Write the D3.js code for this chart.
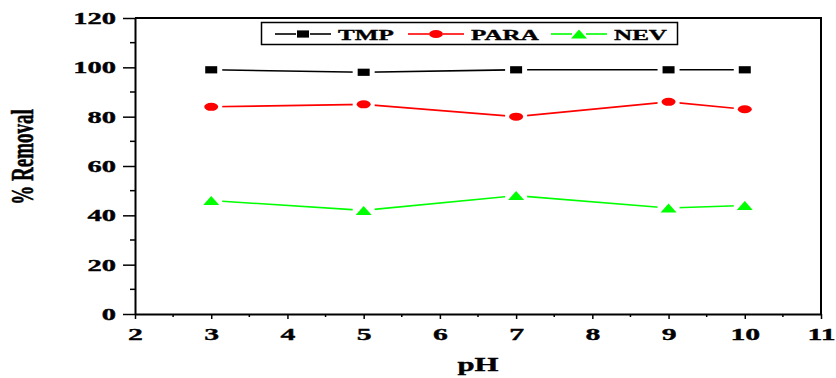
<!DOCTYPE html>
<html>
<head>
<meta charset="utf-8">
<script src="https://cdn.jsdelivr.net/npm/d3@7"></script>
<style>
  body { margin: 0; background: #fff; }
  svg { display: block; }
  text { stroke: #000; stroke-width: 0.35px; }
</style>
</head>
<body>
<script>
// data
const phValues = [3, 5, 7, 9, 10];
const tmp = [99, 98, 99, 99, 99];
const para = [84, 85, 80, 86, 83];
const nev = [46, 42, 48, 43, 44];
const xTicks = [2, 3, 4, 5, 6, 7, 8, 9, 10, 11];
const yTicks = [0, 20, 40, 60, 80, 100, 120];

const series = [
  {name: "TMP", values: tmp, color: "#000000", symbol: "square"},
  {name: "PARA", values: para, color: "#ff0000", symbol: "circle"},
  {name: "NEV", values: nev, color: "#00ff00", symbol: "triangle"}
];

const width = 836, height = 378;
const margin = {top: 18, right: 15, bottom: 64, left: 135};
const SX = 1.7; // the original picture is stretched sideways
const font = "'Liberation Serif', 'Times New Roman', serif";

const x = d3.scaleLinear().domain([2, 11]).range([margin.left, width - margin.right]);
const y = d3.scaleLinear().domain([0, 120]).range([height - margin.bottom, margin.top]);

const svg = d3.select("body").append("svg")
  .attr("width", width)
  .attr("height", height)
  .attr("font-family", font)
  .attr("font-weight", "bold");

// marker shapes, drawn wide to match the stretched look
function marker(g, symbol, color) {
  if (symbol === "square") {
    g.append("rect").attr("x", -6).attr("y", -3.6).attr("width", 12).attr("height", 7.2)
      .attr("fill", color);
  } else if (symbol === "circle") {
    g.append("ellipse").attr("rx", 7).attr("ry", 4).attr("fill", color);
  } else {
    g.append("path").attr("d", "M-8,4.5L0,-4.5L8,4.5Z").attr("fill", color);
  }
}

// minor ticks
const xMinor = d3.range(2, 11.01, 0.5).filter(v => v % 1 !== 0);
const yMinor = d3.range(10, 120, 20);

svg.append("g").selectAll("line").data(xMinor).join("line")
  .attr("x1", d => x(d)).attr("x2", d => x(d))
  .attr("y1", y(0)).attr("y2", y(0) + 3)
  .attr("stroke", "#000").attr("stroke-width", 1.5);

svg.append("g").selectAll("line").data(yMinor).join("line")
  .attr("x1", x(2)).attr("x2", x(2) - 5)
  .attr("y1", d => y(d)).attr("y2", d => y(d))
  .attr("stroke", "#000").attr("stroke-width", 1.5);

// axes
const xAxis = svg.append("g")
  .attr("transform", `translate(0,${y(0)})`)
  .call(d3.axisBottom(x).tickValues(xTicks).tickSize(5).tickSizeOuter(0));
xAxis.select(".domain").attr("stroke-width", 2);
xAxis.selectAll(".tick line").attr("stroke-width", 1.5);
xAxis.selectAll(".tick text")
  .attr("y", 0).attr("dy", null)
  .attr("transform", "translate(0,26) scale(" + SX + ",1)")
  .attr("font-size", 17.5)
  .attr("font-family", font)
  .attr("font-weight", "bold")
  .attr("fill", "#000");

const yAxis = svg.append("g")
  .attr("transform", `translate(${x(2)},0)`)
  .call(d3.axisLeft(y).tickValues(yTicks).tickSize(12).tickSizeOuter(0));
yAxis.select(".domain").attr("stroke-width", 2);
yAxis.selectAll(".tick line").attr("stroke-width", 1.5);
yAxis.selectAll(".tick text")
  .attr("x", 0).attr("dy", null)
  .attr("transform", "translate(-19,5.5) scale(1.78,1)")
  .attr("font-size", 16)
  .attr("font-family", font)
  .attr("font-weight", "bold")
  .attr("fill", "#000");

// top and right frame
svg.append("path")
  .attr("d", `M${x(2)},${y(120)}H${x(11)}V${y(0)}`)
  .attr("fill", "none").attr("stroke", "#000").attr("stroke-width", 2);

// series lines and markers
const line = d3.line().x((d, i) => x(phValues[i])).y(d => y(d));

series.forEach(s => {
  svg.append("path")
    .attr("d", line(s.values))
    .attr("fill", "none")
    .attr("stroke", s.color)
    .attr("stroke-width", 1.6);
  const pts = svg.append("g").selectAll("g").data(s.values).join("g")
    .attr("transform", (d, i) => `translate(${x(phValues[i])},${y(d)})`);
  // white halo so the line stops short of the marker
  pts.append("rect").attr("x", -11).attr("y", -6).attr("width", 22).attr("height", 12).attr("fill", "#fff");
  pts.each(function () { marker(d3.select(this), s.symbol, s.color); });
});

// legend
const legend = svg.append("g");
legend.append("rect")
  .attr("x", 261.5).attr("y", 22.5).attr("width", 416).attr("height", 22)
  .attr("fill", "#fff").attr("stroke", "#000").attr("stroke-width", 1.5);

const legendX = [275, 408, 551];
series.forEach((s, i) => {
  const lx = legendX[i];
  const g = legend.append("g").attr("transform", `translate(${lx},34)`);
  g.append("line").attr("x1", 0).attr("x2", 21).attr("stroke", s.color).attr("stroke-width", 1.6);
  g.append("line").attr("x1", 35).attr("x2", 56).attr("stroke", s.color).attr("stroke-width", 1.6);
  const m = g.append("g").attr("transform", "translate(28,0)");
  marker(m, s.symbol, s.color);
  g.append("text")
    .attr("transform", "translate(63,6) scale(1.62,1)")
    .attr("font-size", 15.5)
    .attr("fill", "#000")
    .text(s.name);
});

// axis titles
svg.append("text")
  .attr("transform", `translate(478,371) scale(1.62,1)`)
  .attr("text-anchor", "middle")
  .attr("font-size", 19)
  .text("pH");

svg.append("text")
  .attr("transform", `translate(33,157) scale(1.62,1) rotate(-90)`)
  .attr("text-anchor", "middle")
  .attr("font-size", 19)
  .text("% Removal");
</script>
</body>
</html>
